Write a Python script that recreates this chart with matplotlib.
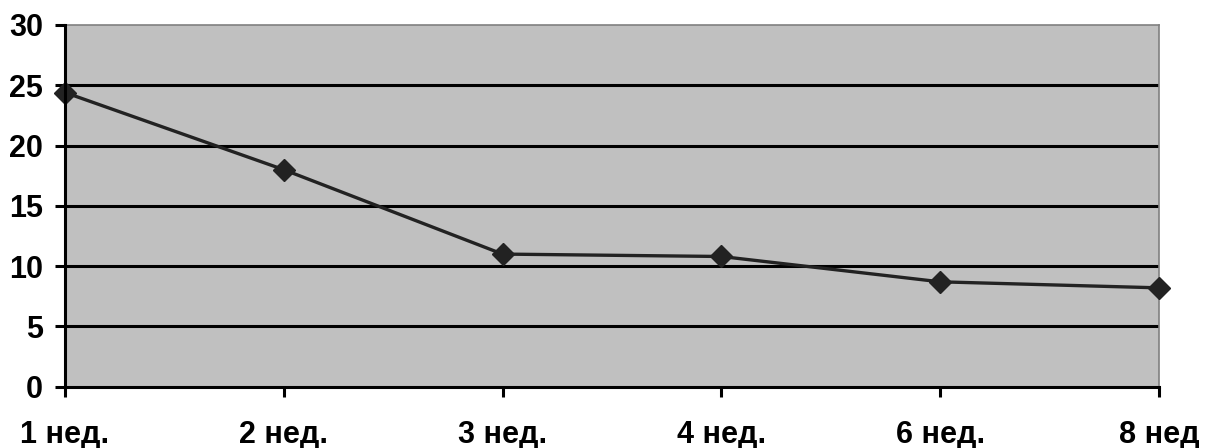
import matplotlib
matplotlib.use("Agg")
import matplotlib.pyplot as plt

weeks = ["1 нед.", "2 нед.", "3 нед.", "4 нед.", "6 нед.", "8 нед"]
values = [24.4, 18.0, 11.0, 10.8, 8.7, 8.2]
y_ticks = [0, 5, 10, 15, 20, 25, 30]

plt.rcParams["font.family"] = ["Liberation Sans", "DejaVu Sans"]
plt.rcParams["font.weight"] = "bold"

fig = plt.figure(figsize=(12.08, 4.48), dpi=100)
ax = fig.add_axes([0.0538, 0.1368, 0.9056, 0.8074])
ax.set_facecolor("#c0c0c0")

x = list(range(len(weeks)))
ax.set_xlim(0, len(weeks) - 1)
ax.set_ylim(0, 30)

for t in y_ticks[1:-1]:
    ax.axhline(t, color="black", lw=2.2, zorder=1)

ax.plot(x, values, color="#222222", lw=2.4, marker="D", markersize=11,
        markerfacecolor="#222222", markeredgecolor="#222222", zorder=3,
        clip_on=False)

ax.set_xticks(x)
ax.set_xticklabels(weeks)
ax.set_yticks(y_ticks)
ax.tick_params(axis="both", labelsize=22, width=2.2, color="black",
               direction="out")
ax.tick_params(axis="x", length=7, pad=17)
ax.tick_params(axis="y", length=7, pad=9)

for side in ("left", "bottom"):
    ax.spines[side].set_color("black")
    ax.spines[side].set_linewidth(2.2)
    ax.spines[side].set_zorder(4)
for side in ("top", "right"):
    ax.spines[side].set_color("#808080")
    ax.spines[side].set_linewidth(1.2)

fig.savefig("out.png", dpi=100)
